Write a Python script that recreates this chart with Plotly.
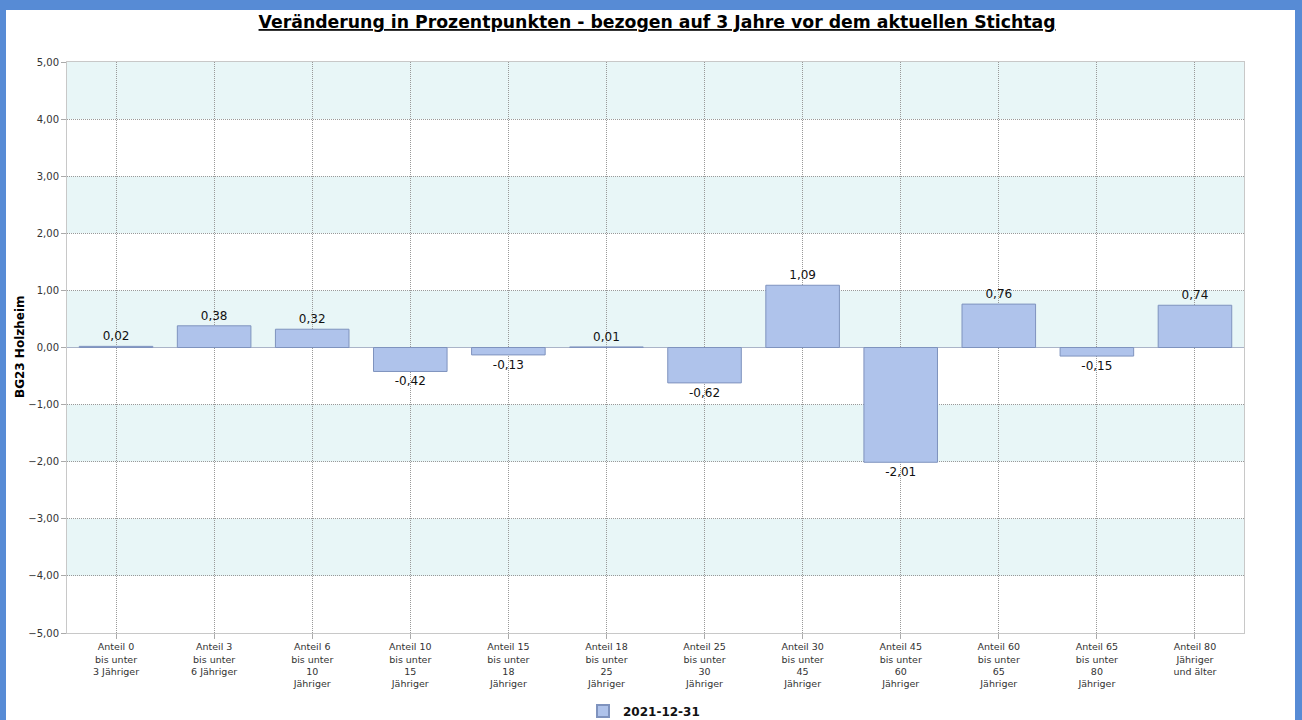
import plotly.graph_objects as go

categories = [
    "Anteil 0<br>bis unter<br>3 Jähriger",
    "Anteil 3<br>bis unter<br>6 Jähriger",
    "Anteil 6<br>bis unter<br>10<br>Jähriger",
    "Anteil 10<br>bis unter<br>15<br>Jähriger",
    "Anteil 15<br>bis unter<br>18<br>Jähriger",
    "Anteil 18<br>bis unter<br>25<br>Jähriger",
    "Anteil 25<br>bis unter<br>30<br>Jähriger",
    "Anteil 30<br>bis unter<br>45<br>Jähriger",
    "Anteil 45<br>bis unter<br>60<br>Jähriger",
    "Anteil 60<br>bis unter<br>65<br>Jähriger",
    "Anteil 65<br>bis unter<br>80<br>Jähriger",
    "Anteil 80<br>Jähriger<br>und älter",
]
values = [0.02, 0.38, 0.32, -0.42, -0.13, 0.01, -0.62, 1.09, -2.01, 0.76, -0.15, 0.74]
series_name = "2021-12-31"
title = "Veränderung in Prozentpunkten - bezogen auf 3 Jahre vor dem aktuellen Stichtag"
y_title = "BG23 Holzheim"
y_ticks = [-5, -4, -3, -2, -1, 0, 1, 2, 3, 4, 5]
band_ranges = [(4, 5), (2, 3), (0, 1), (-2, -1), (-4, -3)]

W, H = 1302, 720
L, R, T, B = 67, 1244, 62, 633
pw, ph = R - L, B - T

def px_x(px):
    return (px - L) / pw

def px_y(py):
    return (B - py) / ph

font = "DejaVu Sans, Verdana, sans-serif"

fig = go.Figure()
fig.add_trace(go.Bar(
    x=categories, y=values, name=f"<b>{series_name}</b>",
    marker=dict(color="#AFC3EB", line=dict(color="#7F93BE", width=1)),
    width=0.75,
    text=[f"{v:.2f}".replace(".", ",") for v in values],
    textposition="outside",
    textfont=dict(size=12, color="#111", family=font),
    cliponaxis=False,
    showlegend=True,
))

shapes = []
# white page over blue frame
shapes.append(dict(type="rect", xref="paper", yref="paper",
                   x0=px_x(6), x1=px_x(1295), y0=px_y(730), y1=px_y(10),
                   fillcolor="white", line=dict(width=0), layer="below"))
for lo, hi in band_ranges:
    shapes.append(dict(type="rect", xref="paper", yref="y", x0=0, x1=1, y0=lo, y1=hi,
                       fillcolor="#E8F6F7", line=dict(width=0), layer="below"))

fig.update_layout(
    width=W, height=H,
    margin=dict(l=L, r=W - R, t=T, b=H - B, autoexpand=False),
    paper_bgcolor="#578BD5",
    plot_bgcolor="rgba(0,0,0,0)",
    separators=",.",
    shapes=shapes,
    bargap=0.25,
    font=dict(family=font, size=10, color="#333"),
    title=dict(text=f"<b><u>{title}</u></b>", x=px_x(661), xanchor="center",
               y=1 - 22 / H, yanchor="middle", font=dict(size=17.3, color="#000", family=font)),
    legend=dict(orientation="h", x=px_x(644), xanchor="center", y=px_y(711),
                yanchor="middle",
                font=dict(size=12, color="#111", family=font), bgcolor="rgba(0,0,0,0)",
                itemsizing="constant"),
    xaxis=dict(showgrid=True, gridcolor="#999999", griddash="1px,1px", gridwidth=1,
               ticks="outside", ticklen=5, tickcolor="#aaa", automargin=False,
               showline=True, linecolor="#C8C8C8", mirror=True,
               tickfont=dict(size=9.5, color="#333", family=font), tickangle=0,
               zeroline=False),
    yaxis=dict(range=[-5, 5], tickvals=y_ticks, tickformat=".2f", automargin=False,
               showgrid=True, gridcolor="#999999", griddash="1px,1px", gridwidth=1,
               ticks="outside", ticklen=5, tickcolor="#aaa",
               showline=True, linecolor="#C8C8C8", mirror=True,
               zeroline=True, zerolinecolor="#AAB4C8", zerolinewidth=1,
               tickfont=dict(size=10, color="#333", family=font)),
    annotations=[dict(text=f"<b>{y_title}</b>", xref="paper", yref="paper",
                      x=px_x(20), y=px_y(347), textangle=-90, showarrow=False,
                      xanchor="center", yanchor="middle",
                      font=dict(size=12, color="#000", family=font))],
)

fig.write_html("out.html", config={"displayModeBar": False},
               post_script="document.body.style.margin='0';document.body.style.overflow='hidden';")
